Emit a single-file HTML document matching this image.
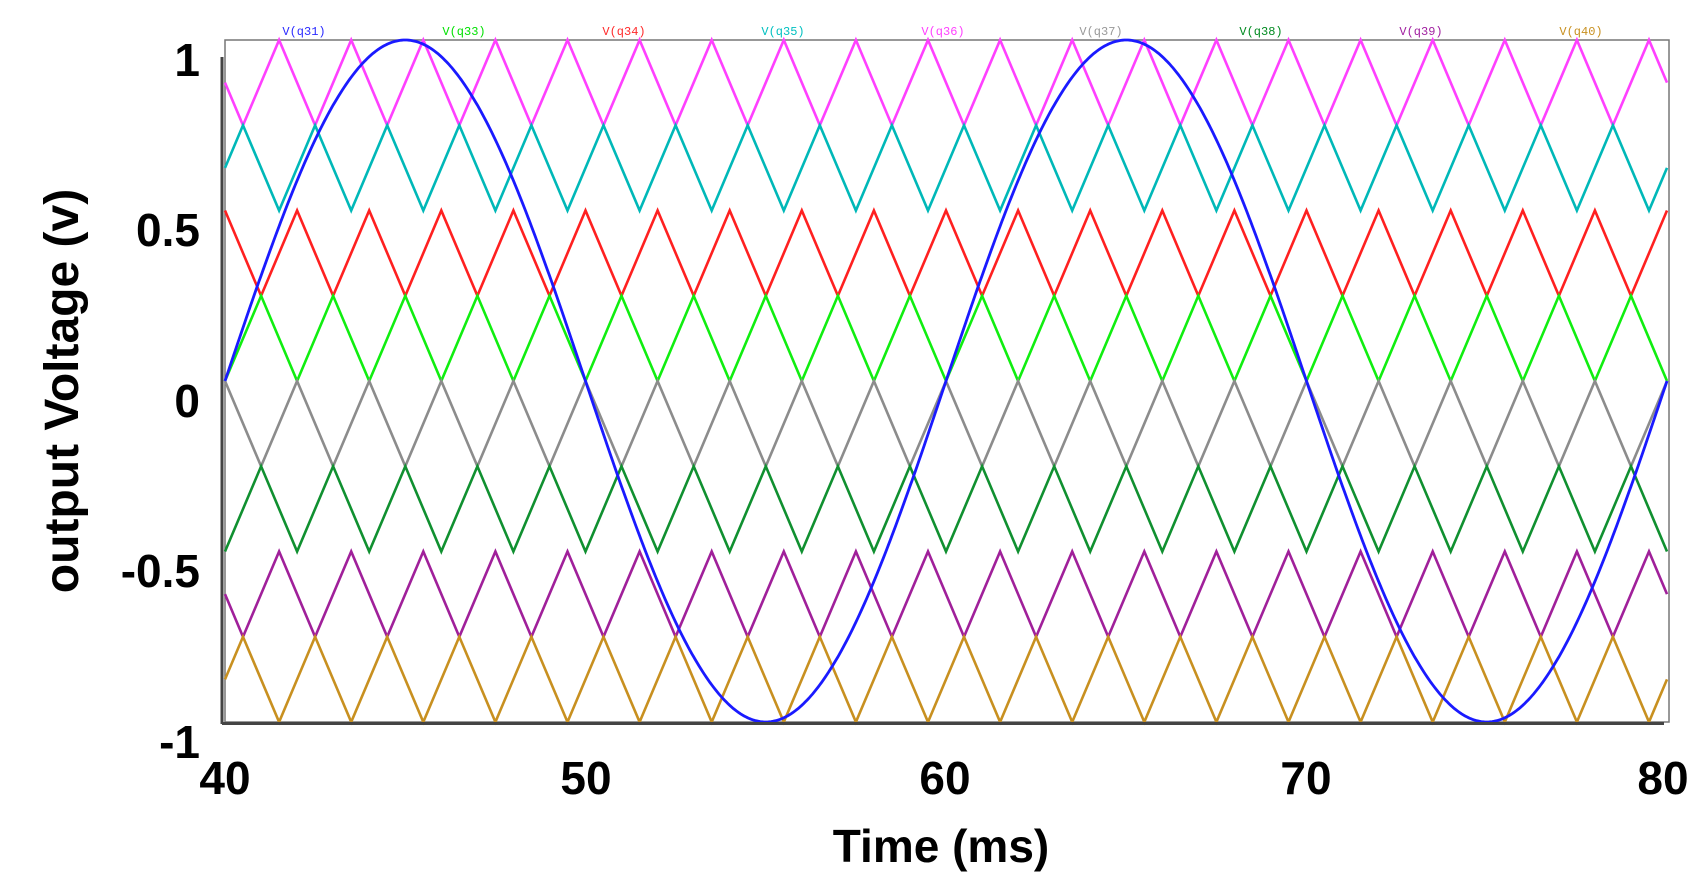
<!DOCTYPE html>
<html><head><meta charset="utf-8"><style>
html,body{margin:0;padding:0;background:#fff;width:1705px;height:893px;overflow:hidden}
svg{display:block}
</style></head><body>
<svg id="s" width="1705" height="893" xmlns="http://www.w3.org/2000/svg" font-family="Liberation Sans, sans-serif">
<rect x="0" y="0" width="1705" height="893" fill="#fff"/>
<rect x="225" y="40" width="1444" height="682" fill="none" stroke="#777" stroke-width="1.5"/>
<g id="series"></g>
<line x1="222" y1="57" x2="222" y2="724" stroke="#444" stroke-width="3"/>
<line x1="222" y1="723.5" x2="1664" y2="723.5" stroke="#444" stroke-width="3"/>
<g font-family="Liberation Mono, monospace" font-size="12" text-anchor="middle">
<text x="304" y="35" fill="#2a2aff">V(q31)</text>
<text x="464" y="35" fill="#00e000">V(q33)</text>
<text x="624" y="35" fill="#ff2a2a">V(q34)</text>
<text x="783" y="35" fill="#00c0c0">V(q35)</text>
<text x="943" y="35" fill="#ff40ff">V(q36)</text>
<text x="1101" y="35" fill="#999">V(q37)</text>
<text x="1261" y="35" fill="#008a20">V(q38)</text>
<text x="1421" y="35" fill="#a020a0">V(q39)</text>
<text x="1581" y="35" fill="#c89020">V(q40)</text>
</g>
<g font-size="46" font-weight="bold" text-anchor="end" fill="#000">
<text x="200" y="76">1</text>
<text x="200" y="246">0.5</text>
<text x="200" y="417">0</text>
<text x="200" y="587">-0.5</text>
<text x="200" y="758">-1</text>
</g>
<g font-size="46" font-weight="bold" text-anchor="middle" fill="#000">
<text x="225" y="794">40</text>
<text x="586" y="794">50</text>
<text x="945" y="794">60</text>
<text x="1306" y="794">70</text>
<text x="1663" y="794">80</text>
<text x="941" y="862">Time (ms)</text>
</g>
<text transform="translate(78,391) rotate(-90)" font-size="48" font-weight="bold" text-anchor="middle">output Voltage (v)</text>
</svg>
<script>
(function(){
var X0=225,X1=1667,Y1=40,Y0=722;
function px(t){return X0+(t-40)/40*(X1-X0);}
function py(v){return Y0-(v+1)/2*(Y0-Y1);}
var g=document.getElementById('series');
var s=[["#ff40ff",1,41.5],["#00b8b8",0.75,40.5],["#ff2020",0.5,40],["#10ee10",0.25,41],
["#8c8c8c",0,40],["#109030",-0.25,41],["#a0209a",-0.5,41.5],["#c89020",-0.75,40.5]];
var ns="http://www.w3.org/2000/svg";
s.forEach(function(a){
 var pts=[];var top=a[1],ph=a[2];
 function val(t){var d=Math.abs(((t-ph)%2+2)%2);if(d>1)d=2-d;return top-d*0.25;}
 pts.push([40,val(40)]);
 for(var k=0;k<100;k++){var t=ph-2+k; if(t>40&&t<80)pts.push([t,val(t)]);}
 pts.push([80,val(80)]);
 var p=document.createElementNS(ns,'polyline');
 p.setAttribute('points',pts.map(function(q){return px(q[0]).toFixed(1)+','+py(q[1]).toFixed(1)}).join(' '));
 p.setAttribute('fill','none');p.setAttribute('stroke',a[0]);p.setAttribute('stroke-width','2.6');
 g.appendChild(p);
});
var pts=[];
for(var i=0;i<=800;i++){var t=40+i*0.05;pts.push(px(t).toFixed(1)+','+py(Math.sin((t-40)/20*2*Math.PI)).toFixed(1));}
var p=document.createElementNS(ns,'polyline');
p.setAttribute('points',pts.join(' '));p.setAttribute('fill','none');p.setAttribute('stroke','#1a1aff');p.setAttribute('stroke-width','2.8');
g.appendChild(p);
})();
</script>
</body></html>
